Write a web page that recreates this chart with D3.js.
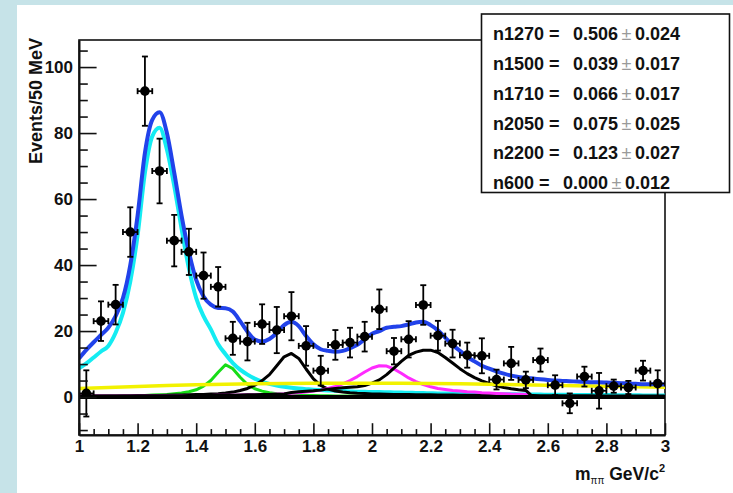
<!DOCTYPE html>
<html><head><meta charset="utf-8">
<script src="https://cdn.jsdelivr.net/npm/d3@7"></script>
<style>
html,body{margin:0;padding:0;background:#fff;}
svg{display:block;}
text{font-family:"Liberation Sans",Arial,Helvetica,sans-serif;}
</style></head><body>
<svg id="chart" width="733" height="493"></svg>
<script>
// ---------------- data ----------------
const binCenters = [1.025,1.075,1.125,1.175,1.225,1.275,1.325,1.375,1.425,1.475,
  1.525,1.575,1.625,1.675,1.725,1.775,1.825,1.875,1.925,1.975,
  2.025,2.075,2.125,2.175,2.225,2.275,2.325,2.375,2.425,2.475,
  2.525,2.575,2.625,2.675,2.725,2.775,2.825,2.875,2.925,2.975];
const binHalfWidth = 0.025;
const events = [1.1,23.0,28.0,50.0,92.7,68.5,47.4,44.0,36.8,33.4,
  17.8,16.8,22.1,20.3,24.5,15.5,8.0,15.8,16.5,18.3,
  26.6,13.9,17.5,27.9,18.6,16.2,12.7,12.5,5.3,10.2,
  5.2,11.2,3.6,-1.9,6.2,1.9,3.3,2.9,8.0,4.1];
const eventErrors = [7,6,6,7.5,10.5,9.8,7.8,7,7,6,
  5,5.7,6,7,7.3,6,4.5,4.5,4.5,4.5,
  6,4,5.5,6,4.5,4.2,3.8,5.3,3,5,
  2.5,3.5,3,3,3,5.4,2,2,3,4];

const curveX = [1.000,1.025,1.050,1.075,1.100,1.125,1.150,1.175,1.200,1.225,
  1.250,1.275,1.300,1.325,1.350,1.375,1.400,1.425,1.450,1.475,
  1.500,1.525,1.550,1.575,1.600,1.625,1.650,1.675,1.700,1.725,
  1.750,1.775,1.800,1.825,1.850,1.875,1.900,1.925,1.950,1.975,
  2.000,2.025,2.050,2.075,2.100,2.125,2.150,2.175,2.200,2.225,
  2.250,2.275,2.300,2.325,2.350,2.375,2.400,2.425,2.450,2.475,
  2.500,2.525,2.550,2.575,2.600,2.625,2.650,2.675,2.700,2.725,
  2.750,2.775,2.800,2.825,2.850,2.875,2.900,2.925,2.950,2.975,3.000];

const totalFit = [11.7,14.3,16.6,18.8,21.0,24.5,30.0,40.0,55.0,74.0,
  84.0,86.3,80.0,68.0,55.0,44.0,35.5,30.5,28.0,27.0,
  26.9,25.9,23.0,19.8,17.4,16.8,17.6,19.4,21.8,22.8,
  21.5,18.5,16.0,14.5,14.0,13.7,14.0,14.8,15.8,17.5,
  19.2,20.0,21.0,21.3,21.5,22.0,22.6,22.8,21.8,20.2,
  18.0,15.8,14.0,12.2,10.8,9.5,8.6,7.8,7.1,6.5,
  6.1,5.8,5.6,5.4,5.2,5.0,4.9,4.8,4.7,4.6,
  4.5,4.5,4.4,4.3,4.2,4.1,4.0,3.9,3.9,3.8,3.8];

const f1270 = [8.7,10.2,12.0,13.8,15.5,19.5,25.5,35.0,49.0,68.0,
  79.0,81.6,75.0,64.0,51.0,39.0,30.0,24.5,20.5,16.0,
  13.0,10.3,8.3,6.8,5.6,4.7,4.0,3.5,3.1,2.8,
  2.6,2.4,2.2,2.1,2.0,1.9,1.8,1.7,1.6,1.6,
  1.5,1.5,1.45,1.4,1.35,1.3,1.25,1.2,1.15,1.1,
  1.1,1.05,1.0,1.0,0.95,0.95,0.9,0.9,0.85,0.85,
  0.8,0.8,0.75,0.75,0.7,0.7,0.7,0.65,0.65,0.65,
  0.6,0.6,0.6,0.6,0.55,0.55,0.55,0.5,0.5,0.5,0.5];

const f1500 = [0.2,0.2,0.25,0.25,0.3,0.3,0.35,0.4,0.45,0.5,
  0.6,0.7,0.8,1.0,1.2,1.6,2.2,3.3,5.0,7.5,
  9.8,8.6,6.0,3.8,2.5,1.8,1.3,1.0,0.8,0.7,
  0.6,0.5,0.45,0.4,0.4,0.35,0.35,0.3,0.3,0.3,
  0.25,0.25,0.25,0.25,0.25,0.25,0.25,0.25,0.25,0.2,
  0.2,0.2,0.2,0.2,0.2,0.2,0.2,0.2,0.2,0.2,
  0.2,0.15,0.15,0.15,0.15,0.15,0.15,0.15,0.15,0.15,
  0.15,0.1,0.1,0.1,0.1,0.1,0.1,0.1,0.1,0.1,0.1];

const f1710 = [0.3,0.3,0.3,0.35,0.35,0.35,0.4,0.4,0.45,0.45,
  0.5,0.5,0.55,0.6,0.65,0.7,0.75,0.8,0.9,1.0,
  1.2,1.5,2.0,2.6,3.6,5.0,6.8,9.5,12.2,13.2,
  11.7,8.5,5.5,3.5,2.4,1.8,1.5,1.3,1.15,1.05,
  0.95,0.9,0.85,0.8,0.78,0.75,0.72,0.7,0.68,0.65,
  0.62,0.6,0.58,0.56,0.54,0.52,0.5,0.49,0.48,0.47,
  0.46,0.45,0.44,0.43,0.42,0.41,0.4,0.39,0.38,0.37,
  0.36,0.35,0.35,0.34,0.34,0.33,0.33,0.32,0.32,0.31,0.3];

const f2050 = [0.3,0.3,0.3,0.3,0.32,0.32,0.34,0.34,0.36,0.36,
  0.38,0.38,0.4,0.4,0.42,0.44,0.46,0.48,0.5,0.52,
  0.55,0.58,0.62,0.66,0.7,0.75,0.8,0.9,1.0,1.15,
  1.3,1.5,1.8,2.1,2.6,3.2,4.0,5.0,6.2,7.6,
  8.8,9.5,9.4,8.5,7.2,5.8,4.7,3.8,3.1,2.6,
  2.3,2.0,1.8,1.6,1.5,1.3,1.2,1.1,1.0,0.9,
  0.85,0.8,0,0,0,0,0,0,0,0,
  0,0,0,0,0,0,0,0,0,0,0];

const f2200 = [0.3,0.3,0.3,0.3,0.32,0.32,0.34,0.34,0.36,0.36,
  0.38,0.38,0.4,0.4,0.42,0.44,0.46,0.48,0.5,0.52,
  0.55,0.58,0.62,0.66,0.7,0.75,0.8,0.85,0.9,1.4,
  1.6,1.75,1.9,2.1,2.4,2.6,2.8,2.95,3.1,3.5,
  4.2,5.2,6.8,8.8,10.8,12.6,13.6,14.2,14.2,13.5,
  12.0,10.3,8.6,7.1,5.9,4.9,4.1,3.4,2.9,2.5,
  2.2,2.0,0,0,0,0,0,0,0,0,
  0,0,0,0,0,0,0,0,0,0,0];

const bgX = [1.0,1.1,1.2,1.3,1.4,1.5,1.6,1.7,1.8,1.9,2.0,2.1,2.2,2.3,2.4,2.5,2.6,2.7,2.8,2.9,3.0];
const bgFit = [2.6,2.9,3.2,3.5,3.7,3.9,4.0,4.1,4.2,4.2,4.2,4.2,4.1,4.0,3.9,3.75,3.6,3.45,3.3,3.15,3.0];

const n600X = [1.0,3.0];
const n600Fit = [0,0];

const xTicks = [1,1.2,1.4,1.6,1.8,2,2.2,2.4,2.6,2.8,3];
const xTickLabels = ["1","1.2","1.4","1.6","1.8","2","2.2","2.4","2.6","2.8","3"];
const xMinorTicks = [1.05,1.1,1.15,1.25,1.3,1.35,1.45,1.5,1.55,1.65,1.7,1.75,1.85,1.9,1.95,
  2.05,2.1,2.15,2.25,2.3,2.35,2.45,2.5,2.55,2.65,2.7,2.75,2.85,2.9,2.95];
const yTicks = [0,20,40,60,80,100];
const yTickLabels = ["0","20","40","60","80","100"];
const yMinorTicks = [-10,-5,5,10,15,25,30,35,45,50,55,65,70,75,85,90,95,105];

const legendNames = ["n1270","n1500","n1710","n2050","n2200","n600"];
const legendValues = ["0.506","0.039","0.066","0.075","0.123","0.000"];
const legendErrors = ["0.024","0.017","0.017","0.025","0.027","0.012"];

// ---------------- layout ----------------
const W = 733, H = 493;
const fL = 79, fR = 665, fT = 40, fB = 435;
const svg = d3.select("#chart");

svg.append("rect").attr("x",0).attr("y",0).attr("width",W).attr("height",H).attr("fill","#ffffff");
svg.append("rect").attr("x",0).attr("y",0).attr("width",17).attr("height",H).attr("fill","#c6e3e8");
svg.append("rect").attr("x",0).attr("y",0).attr("width",W).attr("height",5).attr("fill","#c6e3e8");

const x = d3.scaleLinear().domain([1,3]).range([fL,fR]);
const y = d3.scaleLinear().domain([-11.5,108.2]).range([fB,fT]);

svg.append("defs").append("clipPath").attr("id","clip")
  .append("rect").attr("x",fL).attr("y",fT).attr("width",fR-fL).attr("height",fB-fT);

// frame
svg.append("rect").attr("x",fL).attr("y",fT).attr("width",fR-fL).attr("height",fB-fT)
  .attr("fill","none").attr("stroke","#111").attr("stroke-width",1.6);

// curves
const plot = svg.append("g").attr("clip-path","url(#clip)");
function drawCurve(xs, ys, color, width, curve){
  const line = d3.line().x(d=>x(d[0])).y(d=>y(d[1])).curve(curve||d3.curveLinear);
  plot.append("path").datum(xs.map((v,i)=>[v,ys[i]]))
    .attr("d",line).attr("fill","none").attr("stroke",color)
    .attr("stroke-width",width).attr("stroke-linejoin","round");
}
drawCurve(curveX, f1270, "#14ecf2", 4, d3.curveMonotoneX);
drawCurve(curveX, f1500, "#18dc18", 3);
drawCurve(curveX, f1710, "#000000", 3);
drawCurve(curveX, f2050, "#ff2bff", 3);
drawCurve(curveX, f2200, "#000000", 3);
drawCurve(n600X, n600Fit, "#000000", 4);
drawCurve(bgX, bgFit, "#f2f200", 3.5);
drawCurve(curveX, totalFit, "#2142ea", 4, d3.curveMonotoneX);

// data points with error bars
const pts = plot.append("g").attr("stroke","#000").attr("stroke-width",1.8);
binCenters.forEach((c,i)=>{
  const v = events[i], e = eventErrors[i];
  const cx = x(c), cy = y(v);
  const x0 = x(c-binHalfWidth), x1 = x(c+binHalfWidth);
  const yt = y(v+e), yb = y(v-e);
  pts.append("line").attr("x1",cx).attr("x2",cx).attr("y1",yt).attr("y2",yb);
  pts.append("line").attr("x1",cx-3).attr("x2",cx+3).attr("y1",yt).attr("y2",yt);
  pts.append("line").attr("x1",cx-3).attr("x2",cx+3).attr("y1",yb).attr("y2",yb);
  pts.append("line").attr("x1",x0).attr("x2",x1).attr("y1",cy).attr("y2",cy);
  pts.append("line").attr("x1",x0).attr("x2",x0).attr("y1",cy-3).attr("y2",cy+3);
  pts.append("line").attr("x1",x1).attr("x2",x1).attr("y1",cy-3).attr("y2",cy+3);
  pts.append("circle").attr("cx",cx).attr("cy",cy).attr("r",4.8).attr("fill","#000").attr("stroke","none");
});

// axes
const xAxis = svg.append("g").attr("transform",`translate(0,${fB})`)
  .call(d3.axisBottom(x).tickValues(xTicks).tickSize(-11.8).tickSizeOuter(0).tickPadding(5)
    .tickFormat((d,i)=>xTickLabels[i]));
const xMinor = svg.append("g").attr("transform",`translate(0,${fB})`)
  .call(d3.axisBottom(x).tickValues(xMinorTicks).tickSize(-5.9).tickSizeOuter(0).tickFormat(""));
const yAxis = svg.append("g").attr("transform",`translate(${fL},0)`)
  .call(d3.axisLeft(y).tickValues(yTicks).tickSize(-17.6).tickSizeOuter(0).tickPadding(6)
    .tickFormat((d,i)=>yTickLabels[i]));
const yMinor = svg.append("g").attr("transform",`translate(${fL},0)`)
  .call(d3.axisLeft(y).tickValues(yMinorTicks).tickSize(-8.8).tickSizeOuter(0).tickFormat(""));
[xMinor,yMinor].forEach(g=>g.select(".domain").remove());
[xAxis,yAxis,xMinor,yMinor].forEach(g=>{
  g.selectAll(".tick line").attr("stroke","#111").attr("stroke-width",1.6);
  g.select(".domain").attr("stroke","#111").attr("stroke-width",2);
  g.selectAll("text").attr("font-size",17).attr("font-weight","bold").attr("fill","#111")
    .attr("font-family","'Liberation Sans',Arial,sans-serif");
});

// axis titles
svg.append("text").attr("transform",`translate(41.5,38) rotate(-90)`)
  .attr("text-anchor","end").attr("font-size",18).attr("font-weight","bold").attr("fill","#111")
  .text("Events/50 MeV");

const xt = svg.append("text").attr("x",fR).attr("y",480).attr("text-anchor","end")
  .attr("font-size",17.5).attr("font-weight","bold").attr("fill","#111");
xt.append("tspan").text("m");
xt.append("tspan").attr("font-size",10).attr("font-weight","normal").attr("dy",4).text("ππ");
xt.append("tspan").attr("dy",-4).text(" GeV/c");
xt.append("tspan").attr("font-size",11).attr("dy",-8).text("2");

// stats box
const box = svg.append("g");
box.append("rect").attr("x",481.5).attr("y",14).attr("width",248).attr("height",178.5)
  .attr("fill","#fff").attr("stroke","#111").attr("stroke-width",1.6);
legendNames.forEach((n,i)=>{
  const t = box.append("text").attr("x",493).attr("y",39.8 + i*29.9)
    .attr("font-size",18).attr("font-weight","bold").attr("fill","#111");
  t.append("tspan").text(n + " =");
  t.append("tspan").attr("dx",13.5).text(legendValues[i]);
  t.append("tspan").attr("dx",3.5).attr("font-weight","normal").attr("fill","#9a9a9a").text("±");
  t.append("tspan").attr("dx",3.5).text(legendErrors[i]);
});
</script></body></html>
